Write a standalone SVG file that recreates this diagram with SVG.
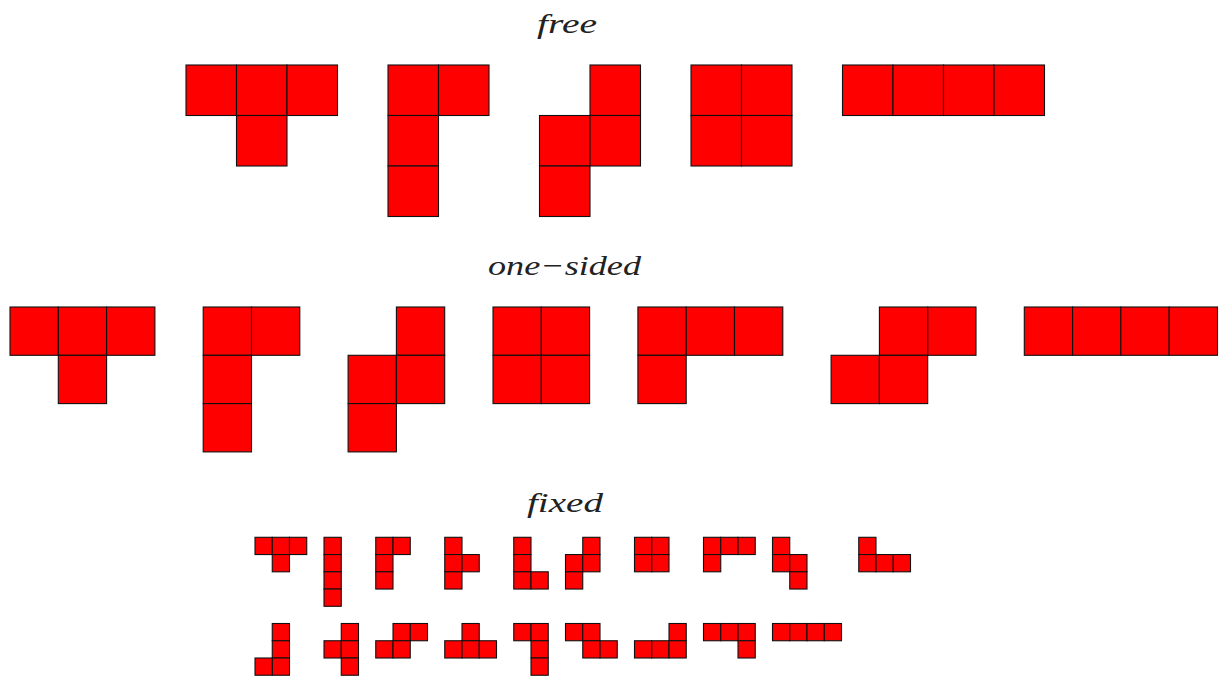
<svg xmlns="http://www.w3.org/2000/svg" width="1222" height="677" viewBox="0 0 1222 677">
<style>
.t{font-family:"Liberation Serif","DejaVu Serif",serif;font-style:italic;font-size:28px;fill:#222}
.L rect{width:50.5px;height:50.5px}
.M rect{width:48.3px;height:48.3px}
.S rect{width:17.25px;height:17.25px}
rect{fill:#ff0000;stroke:#111;stroke-width:1.1}
</style>
<rect width="1222" height="677" style="fill:#fff;stroke:none"/>
<text class="t" x="537" y="33" textLength="60" lengthAdjust="spacingAndGlyphs">free</text>
<text class="t" x="488" y="275" textLength="153" lengthAdjust="spacingAndGlyphs">one−sided</text>
<text class="t" x="527" y="512" textLength="76" lengthAdjust="spacingAndGlyphs">fixed</text>

<g id="free" class="L">
<g id="free-T"><rect x="186" y="65"/><rect x="236.5" y="65"/><rect x="287" y="65"/><rect x="236.5" y="115.5"/></g>
<g id="free-L"><rect x="388" y="65"/><rect x="438.5" y="65"/><rect x="388" y="115.5"/><rect x="388" y="166"/></g>
<g id="free-S"><rect x="590" y="65"/><rect x="539.5" y="115.5"/><rect x="590" y="115.5"/><rect x="539.5" y="166"/></g>
<g id="free-O"><rect x="691" y="65"/><rect x="741.5" y="65"/><rect x="691" y="115.5"/><rect x="741.5" y="115.5"/></g>
<g id="free-I"><rect x="842.5" y="65"/><rect x="893" y="65"/><rect x="943.5" y="65"/><rect x="994" y="65"/></g>
</g>

<g id="onesided" class="M">
<g id="os-T"><rect x="10" y="307"/><rect x="58.3" y="307"/><rect x="106.6" y="307"/><rect x="58.3" y="355.3"/></g>
<g id="os-L"><rect x="203.2" y="307"/><rect x="251.5" y="307"/><rect x="203.2" y="355.3"/><rect x="203.2" y="403.6"/></g>
<g id="os-S"><rect x="396.4" y="307"/><rect x="348.1" y="355.3"/><rect x="396.4" y="355.3"/><rect x="348.1" y="403.6"/></g>
<g id="os-O"><rect x="493" y="307"/><rect x="541.3" y="307"/><rect x="493" y="355.3"/><rect x="541.3" y="355.3"/></g>
<g id="os-J"><rect x="637.9" y="307"/><rect x="686.2" y="307"/><rect x="734.5" y="307"/><rect x="637.9" y="355.3"/></g>
<g id="os-Z"><rect x="879.4" y="307"/><rect x="927.7" y="307"/><rect x="831.1" y="355.3"/><rect x="879.4" y="355.3"/></g>
<g id="os-I"><rect x="1024.3" y="307"/><rect x="1072.6" y="307"/><rect x="1120.9" y="307"/><rect x="1169.2" y="307"/></g>
</g>

<g id="fixed" class="S">
<g id="fx1"><rect x="255" y="537.3"/><rect x="272.25" y="537.3"/><rect x="289.5" y="537.3"/><rect x="272.25" y="554.55"/></g>
<g id="fx2"><rect x="324" y="537.3"/><rect x="324" y="554.55"/><rect x="324" y="571.8"/><rect x="324" y="589.05"/></g>
<g id="fx3"><rect x="375.75" y="537.3"/><rect x="393" y="537.3"/><rect x="375.75" y="554.55"/><rect x="375.75" y="571.8"/></g>
<g id="fx4"><rect x="444.75" y="537.3"/><rect x="444.75" y="554.55"/><rect x="462" y="554.55"/><rect x="444.75" y="571.8"/></g>
<g id="fx5"><rect x="513.75" y="537.3"/><rect x="513.75" y="554.55"/><rect x="513.75" y="571.8"/><rect x="531" y="571.8"/></g>
<g id="fx6"><rect x="582.75" y="537.3"/><rect x="565.5" y="554.55"/><rect x="582.75" y="554.55"/><rect x="565.5" y="571.8"/></g>
<g id="fx7"><rect x="634.5" y="537.3"/><rect x="651.75" y="537.3"/><rect x="634.5" y="554.55"/><rect x="651.75" y="554.55"/></g>
<g id="fx8"><rect x="703.5" y="537.3"/><rect x="720.75" y="537.3"/><rect x="738" y="537.3"/><rect x="703.5" y="554.55"/></g>
<g id="fx9"><rect x="772.5" y="537.3"/><rect x="772.5" y="554.55"/><rect x="789.75" y="554.55"/><rect x="789.75" y="571.8"/></g>
<g id="fx10"><rect x="858.75" y="537.3"/><rect x="858.75" y="554.55"/><rect x="876" y="554.55"/><rect x="893.25" y="554.55"/></g>
<g id="fx11"><rect x="272.25" y="623.5"/><rect x="272.25" y="640.75"/><rect x="272.25" y="658"/><rect x="255" y="658"/></g>
<g id="fx12"><rect x="341.25" y="623.5"/><rect x="324" y="640.75"/><rect x="341.25" y="640.75"/><rect x="341.25" y="658"/></g>
<g id="fx13"><rect x="393" y="623.5"/><rect x="410.25" y="623.5"/><rect x="375.75" y="640.75"/><rect x="393" y="640.75"/></g>
<g id="fx14"><rect x="462" y="623.5"/><rect x="444.75" y="640.75"/><rect x="462" y="640.75"/><rect x="479.25" y="640.75"/></g>
<g id="fx15"><rect x="513.75" y="623.5"/><rect x="531" y="623.5"/><rect x="531" y="640.75"/><rect x="531" y="658"/></g>
<g id="fx16"><rect x="565.5" y="623.5"/><rect x="582.75" y="623.5"/><rect x="582.75" y="640.75"/><rect x="600" y="640.75"/></g>
<g id="fx17"><rect x="669" y="623.5"/><rect x="634.5" y="640.75"/><rect x="651.75" y="640.75"/><rect x="669" y="640.75"/></g>
<g id="fx18"><rect x="703.5" y="623.5"/><rect x="720.75" y="623.5"/><rect x="738" y="623.5"/><rect x="738" y="640.75"/></g>
<g id="fx19"><rect x="772.5" y="623.5"/><rect x="789.75" y="623.5"/><rect x="807" y="623.5"/><rect x="824.25" y="623.5"/></g>
</g>
</svg>
